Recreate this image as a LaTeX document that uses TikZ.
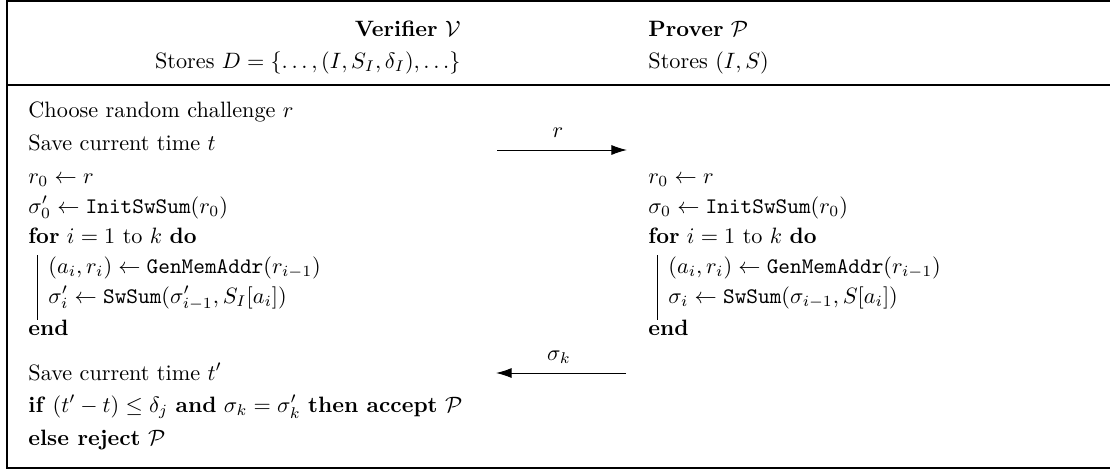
\documentclass[tikz,border=0pt]{standalone}
\usetikzlibrary{arrows.meta}
\begin{document}
\begin{tikzpicture}[x=0.45pt,y=-0.45pt,
  txt/.style={inner sep=0pt, anchor=base west},
  hd/.style={inner sep=0pt, anchor=base east},
  rule/.style={line width=0.5pt},
  loopbar/.style={line width=0.4pt},
  msg/.style={-{Latex[length=7pt,width=4.5pt]}, line width=0.45pt},
  lbl/.style={inner sep=0pt, anchor=base}]
\useasboundingbox (0,0) rectangle (1110,470);
% frame
\draw[rule] (1110,1) -- (7,1) -- (7,468) -- (1110,468);
\draw[rule] (7,85) -- (1110,85);
% header
\node[hd] (vh) at (461,36) {\textbf{Verifier} $\mathcal{V}$};
\node[hd] (vs) at (461,68) {Stores $D=\{\ldots,(I,S_I,\delta_I),\ldots\}$};
\node[txt] (ph) at (648,36) {\textbf{Prover} $\mathcal{P}$};
\node[txt] (ps) at (648,68) {Stores $(I,S)$};
% verifier
\node[txt] (v1) at (28,117) {Choose random challenge $r$};
\node[txt] (v2) at (28,150) {Save current time $t$};
\node[txt] (v3) at (28,183) {$r_0\leftarrow r$};
\node[txt] (v4) at (28,213) {$\sigma'_0\leftarrow\texttt{InitSwSum}(r_0)$};
\node[txt] (v5) at (28,243) {\textbf{for} $i=1$ to $k$ \textbf{do}};
\node[txt] (v6) at (48,273) {$(a_i,r_i)\leftarrow\texttt{GenMemAddr}(r_{i-1})$};
\node[txt] (v7) at (48,303) {$\sigma'_i\leftarrow\texttt{SwSum}(\sigma'_{i-1},S_I[a_i])$};
\node[txt] (v8) at (28,335) {\textbf{end}};
\node[txt] (v9) at (28,380) {Save current time $t'$};
\node[txt] (v10) at (28,412) {\textbf{if} $(t'-t)\leq\delta_j$ \textbf{and} $\sigma_k=\sigma'_k$ \textbf{then accept} $\mathcal{P}$};
\node[txt] (v11) at (28,445) {\textbf{else reject} $\mathcal{P}$};
\coordinate (vbt) at (37,255);
\coordinate (vbb) at (37,320);
\draw[loopbar] (vbt) -- (vbb);
% prover
\node[txt] (p3) at (648,183) {$r_0\leftarrow r$};
\node[txt] (p4) at (648,213) {$\sigma_0\leftarrow\texttt{InitSwSum}(r_0)$};
\node[txt] (p5) at (648,243) {\textbf{for} $i=1$ to $k$ \textbf{do}};
\node[txt] (p6) at (668,273) {$(a_i,r_i)\leftarrow\texttt{GenMemAddr}(r_{i-1})$};
\node[txt] (p7) at (668,303) {$\sigma_i\leftarrow\texttt{SwSum}(\sigma_{i-1},S[a_i])$};
\node[txt] (p8) at (648,335) {\textbf{end}};
\coordinate (pbt) at (657,255);
\coordinate (pbb) at (657,320);
\draw[loopbar] (pbt) -- (pbb);
% messages
\coordinate (m1a) at (497,150);
\coordinate (m1b) at (627,150);
\draw[msg] (m1a) -- (m1b);
\node[lbl] (m1l) at (558,137) {$r$};
\coordinate (m2a) at (626,373);
\coordinate (m2b) at (496,373);
\draw[msg] (m2a) -- (m2b);
\node[lbl] (m2l) at (559,360) {$\sigma_k$};
\end{tikzpicture}
\end{document}
